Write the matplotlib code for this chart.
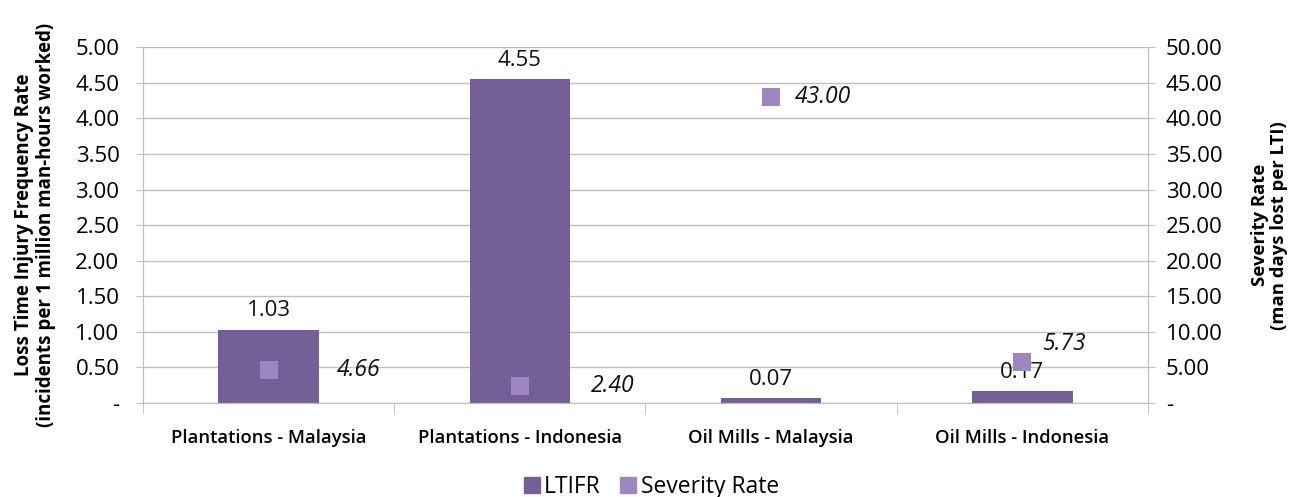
import matplotlib.pyplot as plt
import numpy as np
from matplotlib.ticker import FuncFormatter, FixedLocator
from matplotlib.lines import Line2D

plt.rcParams['font.family'] = ['Open Sans', 'DejaVu Sans']

categories = ['Plantations - Malaysia', 'Plantations - Indonesia',
              'Oil Mills - Malaysia', 'Oil Mills - Indonesia']
ltifr = [1.03, 4.55, 0.07, 0.17]
severity = [4.66, 2.40, 43.00, 5.73]

bar_col = '#745F96'
sev_col = '#9E86C0'
grid_col = '#BFBFBF'

fig = plt.figure(figsize=(13.04, 4.97), dpi=100)
ax = fig.add_axes([0.1097, 0.189, 0.7706, 0.716])
ax2 = ax.twinx()

x = np.arange(len(categories))
ax.bar(x, ltifr, width=0.4, color=bar_col, zorder=2)
for xi, v in zip(x, ltifr):
    ax.annotate(f'{v:.2f}', (xi, v), xytext=(0, 6), textcoords='offset points',
                ha='center', va='bottom', fontsize=16, color='#111111')

ax2.scatter(x, severity, marker='s', s=150, color=sev_col, zorder=3,
            linewidths=0)
# label offsets (points) for severity data labels
sev_off = [(49, 0), (51, 0), (17, 0), (14, 13)]
for xi, v, off in zip(x, severity, sev_off):
    ax2.annotate(f'{v:.2f}', (xi, v), xytext=off, textcoords='offset points',
                 ha='left', va='center', fontsize=16.5, style='italic',
                 color='#111111')

ax.set_xlim(-0.5, 3.5)
ax.set_ylim(0, 5)
ax2.set_ylim(0, 50)
ax.set_yticks(np.arange(0, 5.01, 0.5))
ax2.set_yticks(np.arange(0, 50.1, 5))
fmt = FuncFormatter(lambda v, p: '-' if abs(v) < 1e-9 else f'{v:.2f}')
ax.yaxis.set_major_formatter(fmt)
ax2.yaxis.set_major_formatter(fmt)
ax.grid(axis='y', color=grid_col, linewidth=1, zorder=0)
ax.set_axisbelow(True)

ax.set_xticks(x)
ax.set_xticklabels(categories, fontsize=13.3, fontweight='semibold')
ax.tick_params(axis='x', length=0, pad=19)
ax.xaxis.set_minor_locator(FixedLocator([0.5, 1.5, 2.5, 3.5, -0.5]))
ax.tick_params(axis='x', which='minor', length=8, color=grid_col)
ax.tick_params(axis='y', length=5, color=grid_col, labelsize=16, pad=12)
ax2.tick_params(axis='y', length=5, color=grid_col, labelsize=16, pad=8)

for a in (ax, ax2):
    a.spines['top'].set_visible(False)
    for s in ('left', 'right', 'bottom'):
        a.spines[s].set_color(grid_col)

ax.set_ylabel('Loss Time Injury Frequency Rate\n(incidents per 1 million man-hours worked)',
              fontsize=13.5, fontweight='bold', labelpad=14, linespacing=1.1)
ax2.set_ylabel('Severity Rate\n(man days lost per LTI)', fontsize=13.3,
               fontweight='bold', labelpad=20, linespacing=1.1)

handles = [Line2D([], [], ls='none', marker='s', ms=12, color=bar_col),
           Line2D([], [], ls='none', marker='s', ms=12, color=sev_col)]
fig.legend(handles, ['LTIFR', 'Severity Rate'], loc='lower center',
           bbox_to_anchor=(0.5, -0.045), ncol=2, frameon=False, fontsize=16.5,
           handlelength=0.6, handletextpad=0.25, columnspacing=0.9)

fig.savefig('out.png', dpi=100)
